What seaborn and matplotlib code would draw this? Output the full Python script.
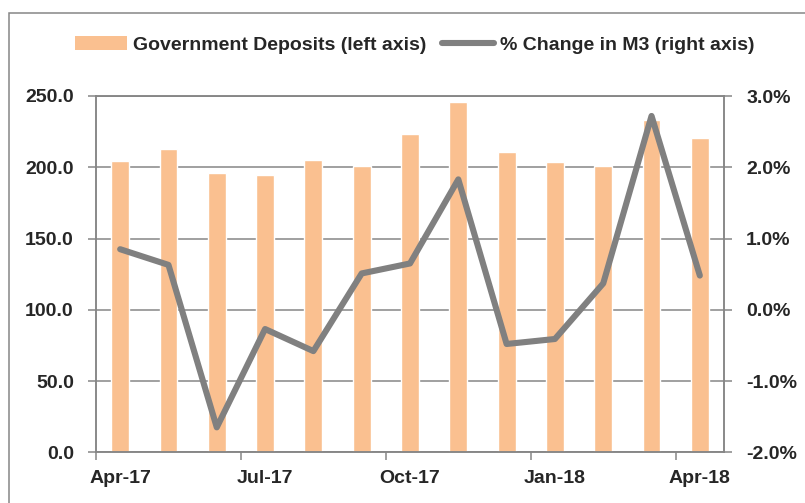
import matplotlib
matplotlib.use("Agg")
import matplotlib.pyplot as plt
import numpy as np
import pandas as pd
import seaborn as sns
from matplotlib.lines import Line2D
from matplotlib.patches import Patch, Rectangle
from matplotlib.ticker import FixedLocator, FuncFormatter

MONTHS = ["Apr-17", "May-17", "Jun-17", "Jul-17", "Aug-17", "Sep-17", "Oct-17",
          "Nov-17", "Dec-17", "Jan-18", "Feb-18", "Mar-18", "Apr-18"]
GOV_DEPOSITS = [204.4, 212.8, 196.0, 194.6, 205.1, 200.7, 223.1,
                245.6, 210.7, 203.7, 201.1, 232.9, 220.5]
M3_CHANGE = [0.85, 0.63, -1.65, -0.27, -0.58, 0.51, 0.65,
             1.83, -0.48, -0.41, 0.37, 2.72, 0.48]
LABELED = ["Apr-17", "Jul-17", "Oct-17", "Jan-18", "Apr-18"]

BAR_COLOR = "#FAC090"
LINE_COLOR = "#808080"
AXIS_COLOR = "#868686"
FS = 14

sns.set_style("white")
plt.rcParams["font.family"] = ["Liberation Sans", "DejaVu Sans"]
plt.rcParams["font.weight"] = "bold"

df = pd.DataFrame({"month": MONTHS, "deposits": GOV_DEPOSITS, "m3": M3_CHANGE})

fig = plt.figure(figsize=(8.05, 5.03), dpi=100)
ax = fig.add_axes([96 / 805, 1 - 452.3 / 503, 628 / 805, 356.3 / 503])

sns.barplot(data=df, x="month", y="deposits", color=BAR_COLOR, width=0.37,
            saturation=1, ax=ax, zorder=2)
ax.set_ylim(0, 250)
ax.set_xlim(-0.5, len(MONTHS) - 0.5)
ax.set_yticks(np.arange(0, 251, 50))
ax.yaxis.set_major_formatter(FuncFormatter(lambda v, p: f"{v:.1f}"))
ax.grid(axis="y", color=AXIS_COLOR, linewidth=1.1, zorder=0)
ax.set_axisbelow(True)
ax.set_xlabel("")
ax.set_ylabel("")

# x labels at category centres, tick marks on quarter boundaries
lab_pos = [MONTHS.index(m) for m in LABELED]
ax.set_xticks(lab_pos)
ax.set_xticklabels(LABELED)
ax.xaxis.set_minor_locator(FixedLocator([p - 0.5 for p in lab_pos]))
ax.tick_params(axis="x", which="major", length=0, pad=12.5, labelsize=FS)
ax.tick_params(axis="x", which="minor", bottom=True, length=6, width=1.1,
               color=AXIS_COLOR)
ax.tick_params(axis="y", left=True, length=6, width=1.1, color=AXIS_COLOR,
               pad=10, labelsize=FS)

for side in ["left", "bottom", "top", "right"]:
    ax.spines[side].set_color(AXIS_COLOR)
    ax.spines[side].set_linewidth(1.1)

ax2 = ax.twinx()
sns.lineplot(x=np.arange(len(MONTHS)), y=df["m3"], color=LINE_COLOR,
             linewidth=4.4, ax=ax2, zorder=5)
ax2.set_ylim(-2, 3)
ax2.set_yticks(np.arange(-2, 3.1, 1))
ax2.yaxis.set_major_formatter(FuncFormatter(lambda v, p: f"{v:.1f}%"))
ax2.tick_params(axis="y", right=True, length=6, width=1.1, color=AXIS_COLOR,
                pad=10, labelsize=FS)
ax2.set_ylabel("")
ax2.set_xlim(-0.5, len(MONTHS) - 0.5)
for side in ["left", "bottom", "top", "right"]:
    ax2.spines[side].set_color(AXIS_COLOR)
    ax2.spines[side].set_linewidth(1.1)

for lab in ax.get_xticklabels() + ax.get_yticklabels() + ax2.get_yticklabels():
    lab.set_fontweight("bold")

handles = [Patch(facecolor=BAR_COLOR, edgecolor="none"),
           Line2D([0], [0], color=LINE_COLOR, linewidth=4.4)]
fig.legend(handles, ["Government Deposits (left axis)", "% Change in M3 (right axis)"],
           loc="center", bbox_to_anchor=(0.515, 1 - 45 / 503), ncol=2,
           frameon=False, prop={"size": FS, "weight": "bold"},
           handlelength=2.7, handleheight=0.75, handletextpad=0.3,
           columnspacing=0.8)

# outer chart frame
fig.patches.append(Rectangle((9 / 805, -0.05), 1.2, 1 - 13 / 503 + 0.05,
                             transform=fig.transFigure, fill=False,
                             edgecolor=AXIS_COLOR, linewidth=1.1))

fig.savefig("out.png", dpi=100)
